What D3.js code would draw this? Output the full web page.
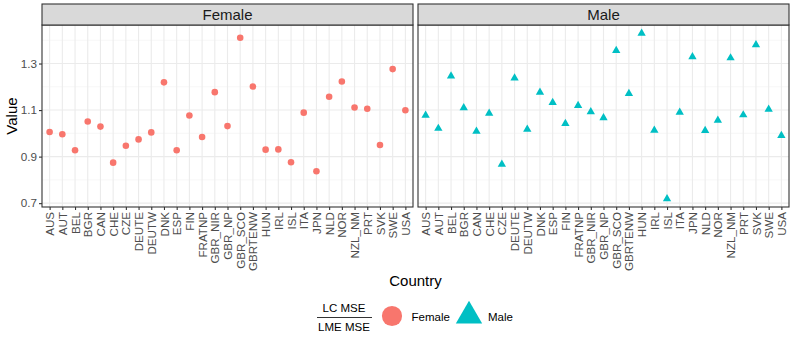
<!DOCTYPE html>
<meta charset="utf-8">
<style>
body { margin: 0; background: #fff; }
text { font-family: "Liberation Sans", Arial, sans-serif; }
</style>
<svg width="793" height="340"></svg>
<script src="https://cdn.jsdelivr.net/npm/d3@7/dist/d3.min.js"></script>
<script>

var countries = ["AUS","AUT","BEL","BGR","CAN","CHE","CZE","DEUTE","DEUTW","DNK","ESP","FIN","FRATNP",
  "GBR_NIR","GBR_NP","GBR_SCO","GBRTENW","HUN","IRL","ISL","ITA","JPN","NLD","NOR","NZL_NM","PRT","SVK","SWE","USA"];

var female = [1.006, 0.996, 0.927, 1.051, 1.029, 0.874, 0.947, 0.974, 1.004, 1.219, 0.927, 1.077, 0.984,
  1.177, 1.031, 1.411, 1.201, 0.930, 0.931, 0.876, 1.089, 0.837, 1.157, 1.223, 1.111, 1.106, 0.950, 1.276, 1.099];

var male = [1.077, 1.021, 1.246, 1.110, 1.009, 1.086, 0.867, 1.237, 1.017, 1.176, 1.132, 1.042, 1.119,
  1.092, 1.067, 1.356, 1.171, 1.430, 1.013, 0.719, 1.090, 1.329, 1.012, 1.056, 1.324, 1.079, 1.380, 1.103, 0.990];

var yTicks = [0.7, 0.9, 1.1, 1.3],
    yMinor = [0.8, 1.0, 1.2, 1.4];

var panels = [
  {name: "Female", values: female, shape: d3.symbolCircle, color: "#F8766D", size: 34},
  {name: "Male", values: male, shape: d3.symbolTriangle, color: "#00BFC4", size: 30}
];

var svg = d3.select("svg"),
    pLeft = 42, pRight = 789, pTop = 25, pBottom = 207, gap = 5, stripH = 21,
    pw = (pRight - pLeft - gap) / 2,
    ph = pBottom - pTop;

var x = d3.scalePoint().domain(countries).range([0, pw]).padding(0.6),
    y = d3.scaleLinear().domain([0.6835, 1.4655]).range([ph, 0]);

panels.forEach(function(p, i) {
  var g = svg.append("g").attr("transform", "translate(" + (pLeft + i * (pw + gap)) + "," + pTop + ")");

  g.append("rect").attr("width", pw).attr("height", ph).attr("fill", "#fff");

  g.selectAll(".minor").data(yMinor).enter().append("line")
      .attr("x1", 0).attr("x2", pw)
      .attr("y1", function(d) { return y(d); }).attr("y2", function(d) { return y(d); })
      .attr("stroke", "#F2F2F2").attr("stroke-width", 0.6);

  g.selectAll(".major").data(yTicks).enter().append("line")
      .attr("x1", 0).attr("x2", pw)
      .attr("y1", function(d) { return y(d); }).attr("y2", function(d) { return y(d); })
      .attr("stroke", "#EBEBEB").attr("stroke-width", 1.1);

  g.selectAll(".vgrid").data(countries).enter().append("line")
      .attr("x1", function(d) { return x(d); }).attr("x2", function(d) { return x(d); })
      .attr("y1", 0).attr("y2", ph)
      .attr("stroke", "#EBEBEB").attr("stroke-width", 1.1);

  g.selectAll(".pt").data(p.values).enter().append("path")
      .attr("d", d3.symbol().type(p.shape).size(p.size))
      .attr("transform", function(d, j) { return "translate(" + x(countries[j]) + "," + y(d) + ")"; })
      .attr("fill", p.color);

  g.append("rect").attr("width", pw).attr("height", ph)
      .attr("fill", "none").attr("stroke", "#333").attr("stroke-width", 1.1);

  // strip
  g.append("rect").attr("y", -stripH).attr("width", pw).attr("height", stripH)
      .attr("fill", "#D9D9D9").attr("stroke", "#333").attr("stroke-width", 1.1);
  g.append("text").attr("x", pw / 2).attr("y", -stripH / 2).attr("dy", "0.36em")
      .attr("text-anchor", "middle").attr("font-size", 15).attr("fill", "#1A1A1A").text(p.name);

  // x axis
  var xa = g.append("g").attr("transform", "translate(0," + ph + ")")
      .call(d3.axisBottom(x).tickSize(3).tickPadding(2));
  xa.select(".domain").remove();
  xa.selectAll(".tick line").attr("stroke", "#333").attr("stroke-width", 1.1);
  xa.selectAll(".tick text")
      .attr("transform", "rotate(-90)")
      .attr("x", -5).attr("y", 0).attr("dy", "0.35em")
      .style("text-anchor", "end")
      .attr("font-size", 11.6).attr("fill", "#4D4D4D")
      .attr("font-family", "Liberation Sans, Arial, sans-serif");

  if (i === 0) {
    var ya = g.append("g").call(d3.axisLeft(y).tickValues(yTicks).tickSize(3).tickPadding(2)
        .tickFormat(d3.format(".1f")));
    ya.select(".domain").remove();
    ya.selectAll(".tick line").attr("stroke", "#333").attr("stroke-width", 1.1);
    ya.selectAll(".tick text").attr("font-size", 11.7).attr("fill", "#4D4D4D")
        .attr("font-family", "Liberation Sans, Arial, sans-serif");
  }
});

svg.append("text")
    .attr("transform", "translate(17," + (pTop + ph / 2) + ") rotate(-90)")
    .attr("text-anchor", "middle").attr("font-size", 15).attr("fill", "#000").text("Value");

svg.append("text")
    .attr("x", pLeft + (pRight - pLeft) / 2).attr("y", 286)
    .attr("text-anchor", "middle").attr("font-size", 15).attr("fill", "#000").text("Country");

// legend
var lg = svg.append("g").attr("transform", "translate(0,317)");
lg.append("text").attr("x", 344).attr("y", -5).attr("text-anchor", "middle")
    .attr("font-size", 11.5).text("LC MSE");
lg.append("line").attr("x1", 317).attr("x2", 372).attr("y1", 0.5).attr("y2", 0.5)
    .attr("stroke", "#000").attr("stroke-width", 0.8);
lg.append("text").attr("x", 344).attr("y", 14).attr("text-anchor", "middle")
    .attr("font-size", 11.5).text("LME MSE");

lg.append("path").attr("d", d3.symbol().type(d3.symbolCircle).size(320))
    .attr("transform", "translate(392,-1)").attr("fill", panels[0].color);
lg.append("text").attr("x", 411.5).attr("y", 0).attr("dy", "0.35em")
    .attr("font-size", 11.5).text("Female");
lg.append("path").attr("d", d3.symbol().type(d3.symbolTriangle).size(300))
    .attr("transform", "translate(469,-1)").attr("fill", panels[1].color);
lg.append("text").attr("x", 488).attr("y", 0).attr("dy", "0.35em")
    .attr("font-size", 11.5).text("Male");

</script>
